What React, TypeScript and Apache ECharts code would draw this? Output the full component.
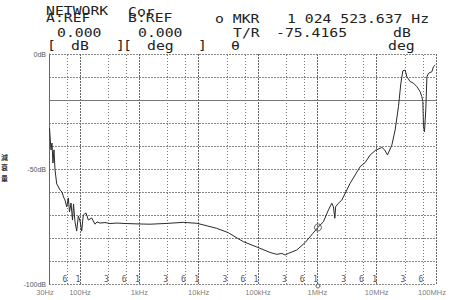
import React, { useEffect, useRef } from "react";
import * as echarts from "echarts";

// Measured trace: frequency (Hz) and attenuation (dB)
const freqHz = [
  30.6, 32.4, 33.7, 35.0, 36.4, 37.9, 40.5, 42.5, 46.0, 49.7,
  52.7, 55.8, 59.6, 63.5, 66.5, 70.5, 74.7, 77.7, 82.3, 87.9,
  93.6, 100, 106.8, 113.6, 126.2, 138, 157.4, 178.9, 193.4, 217.3,
  263.8, 320.3, 420.4, 573.6, 1027, 1515, 2712, 5519, 9286, 13320,
  20180, 31670, 44900, 56700, 95400, 159900, 207500, 251900, 286300, 325400,
  451000, 622800, 839500, 1024524, 1266700, 1538000, 1755000, 1867000, 1971000, 2034000,
  2267000, 2587000, 2941000, 3571000, 4337000, 5265000, 6393000, 7766000, 9427000, 12230000,
  13630000, 15200000, 18030000, 20490000, 23300000, 25580000, 27630000, 30220000, 32280000, 36690000,
  41710000, 47610000, 54100000, 57810000, 60080000, 61500000, 63940000, 67500000, 70180000, 74680000,
  85200000, 90700000, 96900000,
];
const attenDb = [
  -32.2, -41.7, -38.7, -47.4, -41.7, -50.4, -56.5, -57.4, -59.1, -60.0,
  -62.2, -63.5, -66.5, -62.6, -68.7, -64.8, -72.2, -65.2, -73.0, -77.0,
  -70.4, -72.6, -77.0, -70.0, -69.1, -72.2, -71.3, -74.0, -73.0, -73.5,
  -73.3, -73.7, -73.5, -73.7, -73.9, -74.0, -73.7, -73.2, -73.6, -74.6,
  -75.8, -77.7, -80.1, -81.6, -83.9, -86.3, -87.1, -86.7, -87.4, -86.7,
  -85.2, -82.0, -78.0, -75.4, -72.9, -67.8, -64.9, -66.4, -71.4, -66.4,
  -64.9, -63.5, -60.6, -56.2, -52.6, -49.0, -47.2, -43.9, -42.0, -40.6,
  -41.7, -43.9, -39.6, -33.0, -22.9, -12.7, -7.3, -7.0, -9.9, -12.0,
  -12.7, -14.2, -16.4, -18.6, -20.7, -31.6, -33.8, -23.6, -9.9, -8.4,
  -7.7, -5.5, -4.8,
];

// Marker
const markerFreq = 1024523.637;
const markerDb = -75.4165;

// Axis ticks
const decadeFreqs = [30, 100, 1e3, 1e4, 1e5, 1e6, 1e7, 1e8];
const decadeLabels = ["30Hz", "100Hz", "1kHz", "10kHz", "100kHz", "1MHz", "10MHz", "100MHz"];
const subGridFreqs = [60, 100, 300, 600, 1e3, 3e3, 6e3, 1e4, 3e4, 6e4, 1e5, 3e5, 6e5, 1e6, 3e6, 6e6, 1e7, 3e7, 6e7];
const subGridLabels = ["6", "1", "3", "6", "1", "3", "6", "1", "3", "6", "1", "3", "6", "1", "3", "6", "1", "3", "6"];
const yMin = -100;
const yMax = 0;
const refLineDb = -20;

// Header texts: [text, x, y]
const headerTexts: [string, number, number][] = [
  ["NETWORK", 46, 4.5],
  ["Cor", 128, 6],
  ["A:REF", 46, 11.5],
  ["B:REF", 128, 11.5],
  ["o MKR", 215, 12.5],
  ["1 024 523.637 Hz", 287, 12.5],
  ["0.000", 57, 26.5],
  ["0.000", 138, 26.5],
  ["T/R", 233, 26.5],
  ["-75.4165", 276, 26.5],
  ["dB", 393, 26.5],
  ["[", 47, 39.5],
  ["dB", 71, 39.5],
  ["]", 116, 39.5],
  ["[", 123, 39.5],
  ["deg", 147, 39.5],
  ["]", 198, 39.5],
  ["θ", 231, 39.5],
  ["deg", 388, 39.5],
];
const axisTitleChars = ["減", "衰", "量"];

export default function App() {
  const ref = useRef<HTMLDivElement>(null);
  useEffect(() => {
    if (!ref.current) return;
    const chart = echarts.init(ref.current, null, { renderer: "svg" });
    const trace = freqHz.map((f, i) => [f, attenDb[i]]);
    const mono = "DejaVu Sans Mono";
    const decadeLabelData = decadeFreqs.map((f, i) => ({
      value: [f, yMin],
      label: {
        formatter: decadeLabels[i],
        color: "#555",
        offset: [i === 0 ? -4 : i === decadeFreqs.length - 1 ? -4 : 0, 0],
      },
    }));
    const subLabelData = subGridFreqs.map((f, i) => ({
      value: [f, yMin],
      label: { formatter: subGridLabels[i], color: "#222" },
    }));
    const subLines = subGridFreqs
      .filter((f) => decadeFreqs.indexOf(f) < 0)
      .map((f) => ({ xAxis: f }));

    chart.setOption({
      animation: false,
      backgroundColor: "#fff",
      grid: { left: 49, right: 14, top: 54, bottom: 16 },
      xAxis: {
        type: "log",
        logBase: 10,
        min: 30,
        max: 1e8,
        axisLine: { show: false },
        axisTick: { show: false },
        axisLabel: { show: false },
        splitLine: { show: true, lineStyle: { color: "#666", type: [2, 1], width: 1 } },
      },
      yAxis: {
        type: "value",
        min: yMin,
        max: yMax,
        interval: 10,
        axisLine: { show: true, lineStyle: { color: "#666", width: 1 } },
        axisTick: { show: false },
        axisLabel: {
          fontSize: 7,
          color: "#555",
          fontFamily: "Liberation Sans",
          margin: 3,
          formatter: (v: number) => (v % 50 === 0 ? `${v}dB` : ""),
        },
        splitLine: { show: true, lineStyle: { color: "#888", type: [2, 1], width: 1 } },
      },
      series: [
        {
          type: "line",
          data: trace,
          showSymbol: false,
          symbol: "none",
          lineStyle: { color: "#2a2a2a", width: 1 },
          z: 5,
          markLine: {
            silent: true,
            symbol: ["none", "none"],
            label: { show: false },
            lineStyle: { color: "#777", type: [1, 2], width: 1 },
            data: [
              ...subLines,
              { yAxis: refLineDb, lineStyle: { color: "#777", type: "solid", width: 1 } },
            ],
          },
        },
        {
          type: "scatter",
          data: [[markerFreq, markerDb]],
          symbol: "circle",
          symbolSize: 7,
          itemStyle: { color: "rgba(0,0,0,0)", borderColor: "#333", borderWidth: 1 },
          z: 6,
        },
        {
          type: "scatter",
          data: [[markerFreq, yMin]],
          symbol: "circle",
          symbolSize: 4,
          symbolOffset: [0, 2],
          clip: false,
          itemStyle: { color: "#fff", borderColor: "#333", borderWidth: 1 },
          z: 6,
        },
        {
          type: "scatter",
          data: decadeLabelData,
          symbolSize: 1,
          clip: false,
          itemStyle: { color: "rgba(0,0,0,0)" },
          label: {
            show: true,
            position: "bottom",
            distance: 4,
            fontSize: 7.5,
            color: "#555",
            fontFamily: "Liberation Sans",
          },
        },
        {
          type: "scatter",
          data: subLabelData,
          symbolSize: 1,
          clip: false,
          itemStyle: { color: "rgba(0,0,0,0)" },
          label: {
            show: true,
            position: "top",
            distance: 0,
            offset: [-2, 0],
            fontSize: 8,
            color: "#222",
            fontFamily: mono,
          },
        },
      ],
      graphic: [
        ...headerTexts.map(([t, x, y]) => ({
          type: "text",
          x,
          y,
          scaleX: 1.23,
          style: {
            text: t,
            fontFamily: mono,
            fontSize: 12,
            fill: "#222",
            align: "left",
            verticalAlign: "top",
          },
        })),
        ...axisTitleChars.map((c, i) => ({
          type: "text",
          x: 1,
          y: 153 + i * 10.5,
          style: {
            text: c,
            fontFamily: "Noto Sans CJK JP",
            fontSize: 7,
            fontWeight: "bold",
            fill: "#333",
            align: "left",
            verticalAlign: "top",
          },
        })),
      ],
    });
    return () => chart.dispose();
  }, []);
  return (
    <div
      ref={ref}
      style={{ position: "fixed", left: 0, top: 0, width: 450, height: 300 }}
    />
  );
}
